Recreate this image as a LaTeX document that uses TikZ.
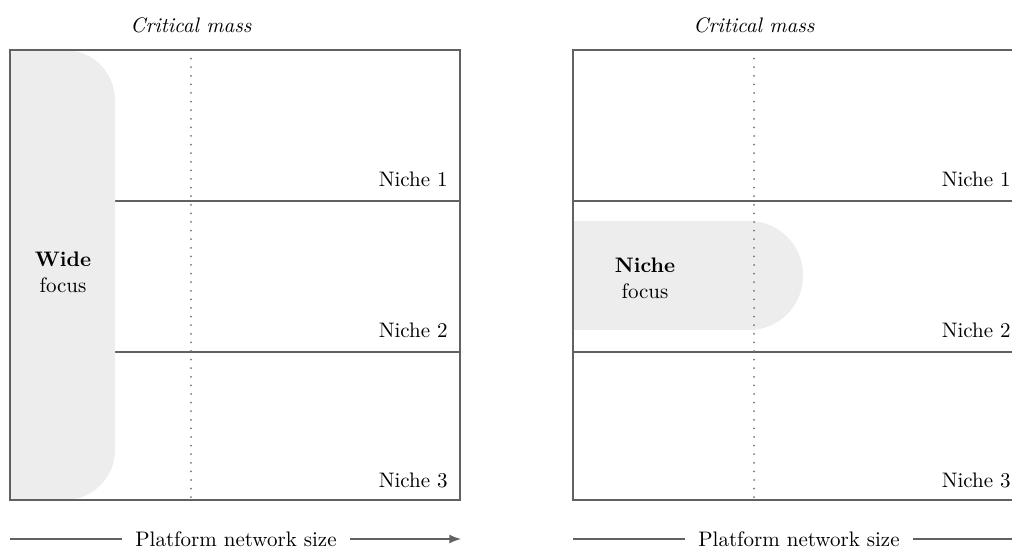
\documentclass[tikz,border=0pt]{standalone}
\usepackage{tikz}
\usetikzlibrary{arrows,positioning}

\begin{document}
\begin{tikzpicture}[x=0.5pt,y=-0.5pt,
  every node/.style={font=\fontsize{10.5}{13}\selectfont},
  frame/.style={draw=black!62,line width=1pt},
  critline/.style={draw=black!55,line width=1pt,line cap=round,dash pattern=on 0pt off 4.3pt},
  focusfill/.style={fill=black!7},
  niche/.style={anchor=south east,inner sep=6pt},
  axis/.style={draw=black!62,line width=1pt}]

        \useasboundingbox (0,0) rectangle (1012,550);
        \clip (0,0) rectangle (1012,550);

        % left panel, wide focus
        \draw[frame] (10,201) -- (460,201) (10,352) -- (460,352);
        \fill[focusfill,rounded corners=25pt] (10,50) rectangle (115,500);
        \fill[focusfill] (10,50) rectangle (60,500);
        \draw[critline] (191,50) -- (191,500);
        \draw[frame] (10,50) rectangle (460,500);

        \node (critA) at (191,25) {\itshape Critical mass};
        \node[niche] (nicheA1) at (460,199) {Niche 1};
        \node[niche] (nicheA2) at (460,350) {Niche 2};
        \node[niche] (nicheA3) at (460,500) {Niche 3};
        \node[align=center] (wide) at (63,272) {\textbf{Wide}\\focus};

        \coordinate (startA) at (10,539);
        \coordinate (endA) at (461,539);
        \node[inner xsep=6.5pt] (sizeA) at (236,539) {Platform network size};
        \draw[axis] (startA) -- (sizeA);
        \draw[axis,-latex] (sizeA) -- (endA);

        % right panel, niche focus
        \draw[frame] (573,201) -- (1023,201) (573,352) -- (1023,352);
        \fill[focusfill,rounded corners=27pt] (573,221) rectangle (803,330);
        \fill[focusfill] (573,221) rectangle (700,330);
        \draw[critline] (754,50) -- (754,500);
        \draw[frame] (573,50) rectangle (1023,500);

        \node (critB) at (754,25) {\itshape Critical mass};
        \node[niche] (nicheB1) at (1023,199) {Niche 1};
        \node[niche] (nicheB2) at (1023,350) {Niche 2};
        \node[niche] (nicheB3) at (1023,500) {Niche 3};
        \node[align=center] (narrow) at (645,278) {\textbf{Niche}\\focus};

        \coordinate (startB) at (573,539);
        \coordinate (endB) at (1024,539);
        \node[inner xsep=6.5pt] (sizeB) at (799,539) {Platform network size};
        \draw[axis] (startB) -- (sizeB);
        \draw[axis,-latex] (sizeB) -- (endB);
      \end{tikzpicture}
\end{document}
